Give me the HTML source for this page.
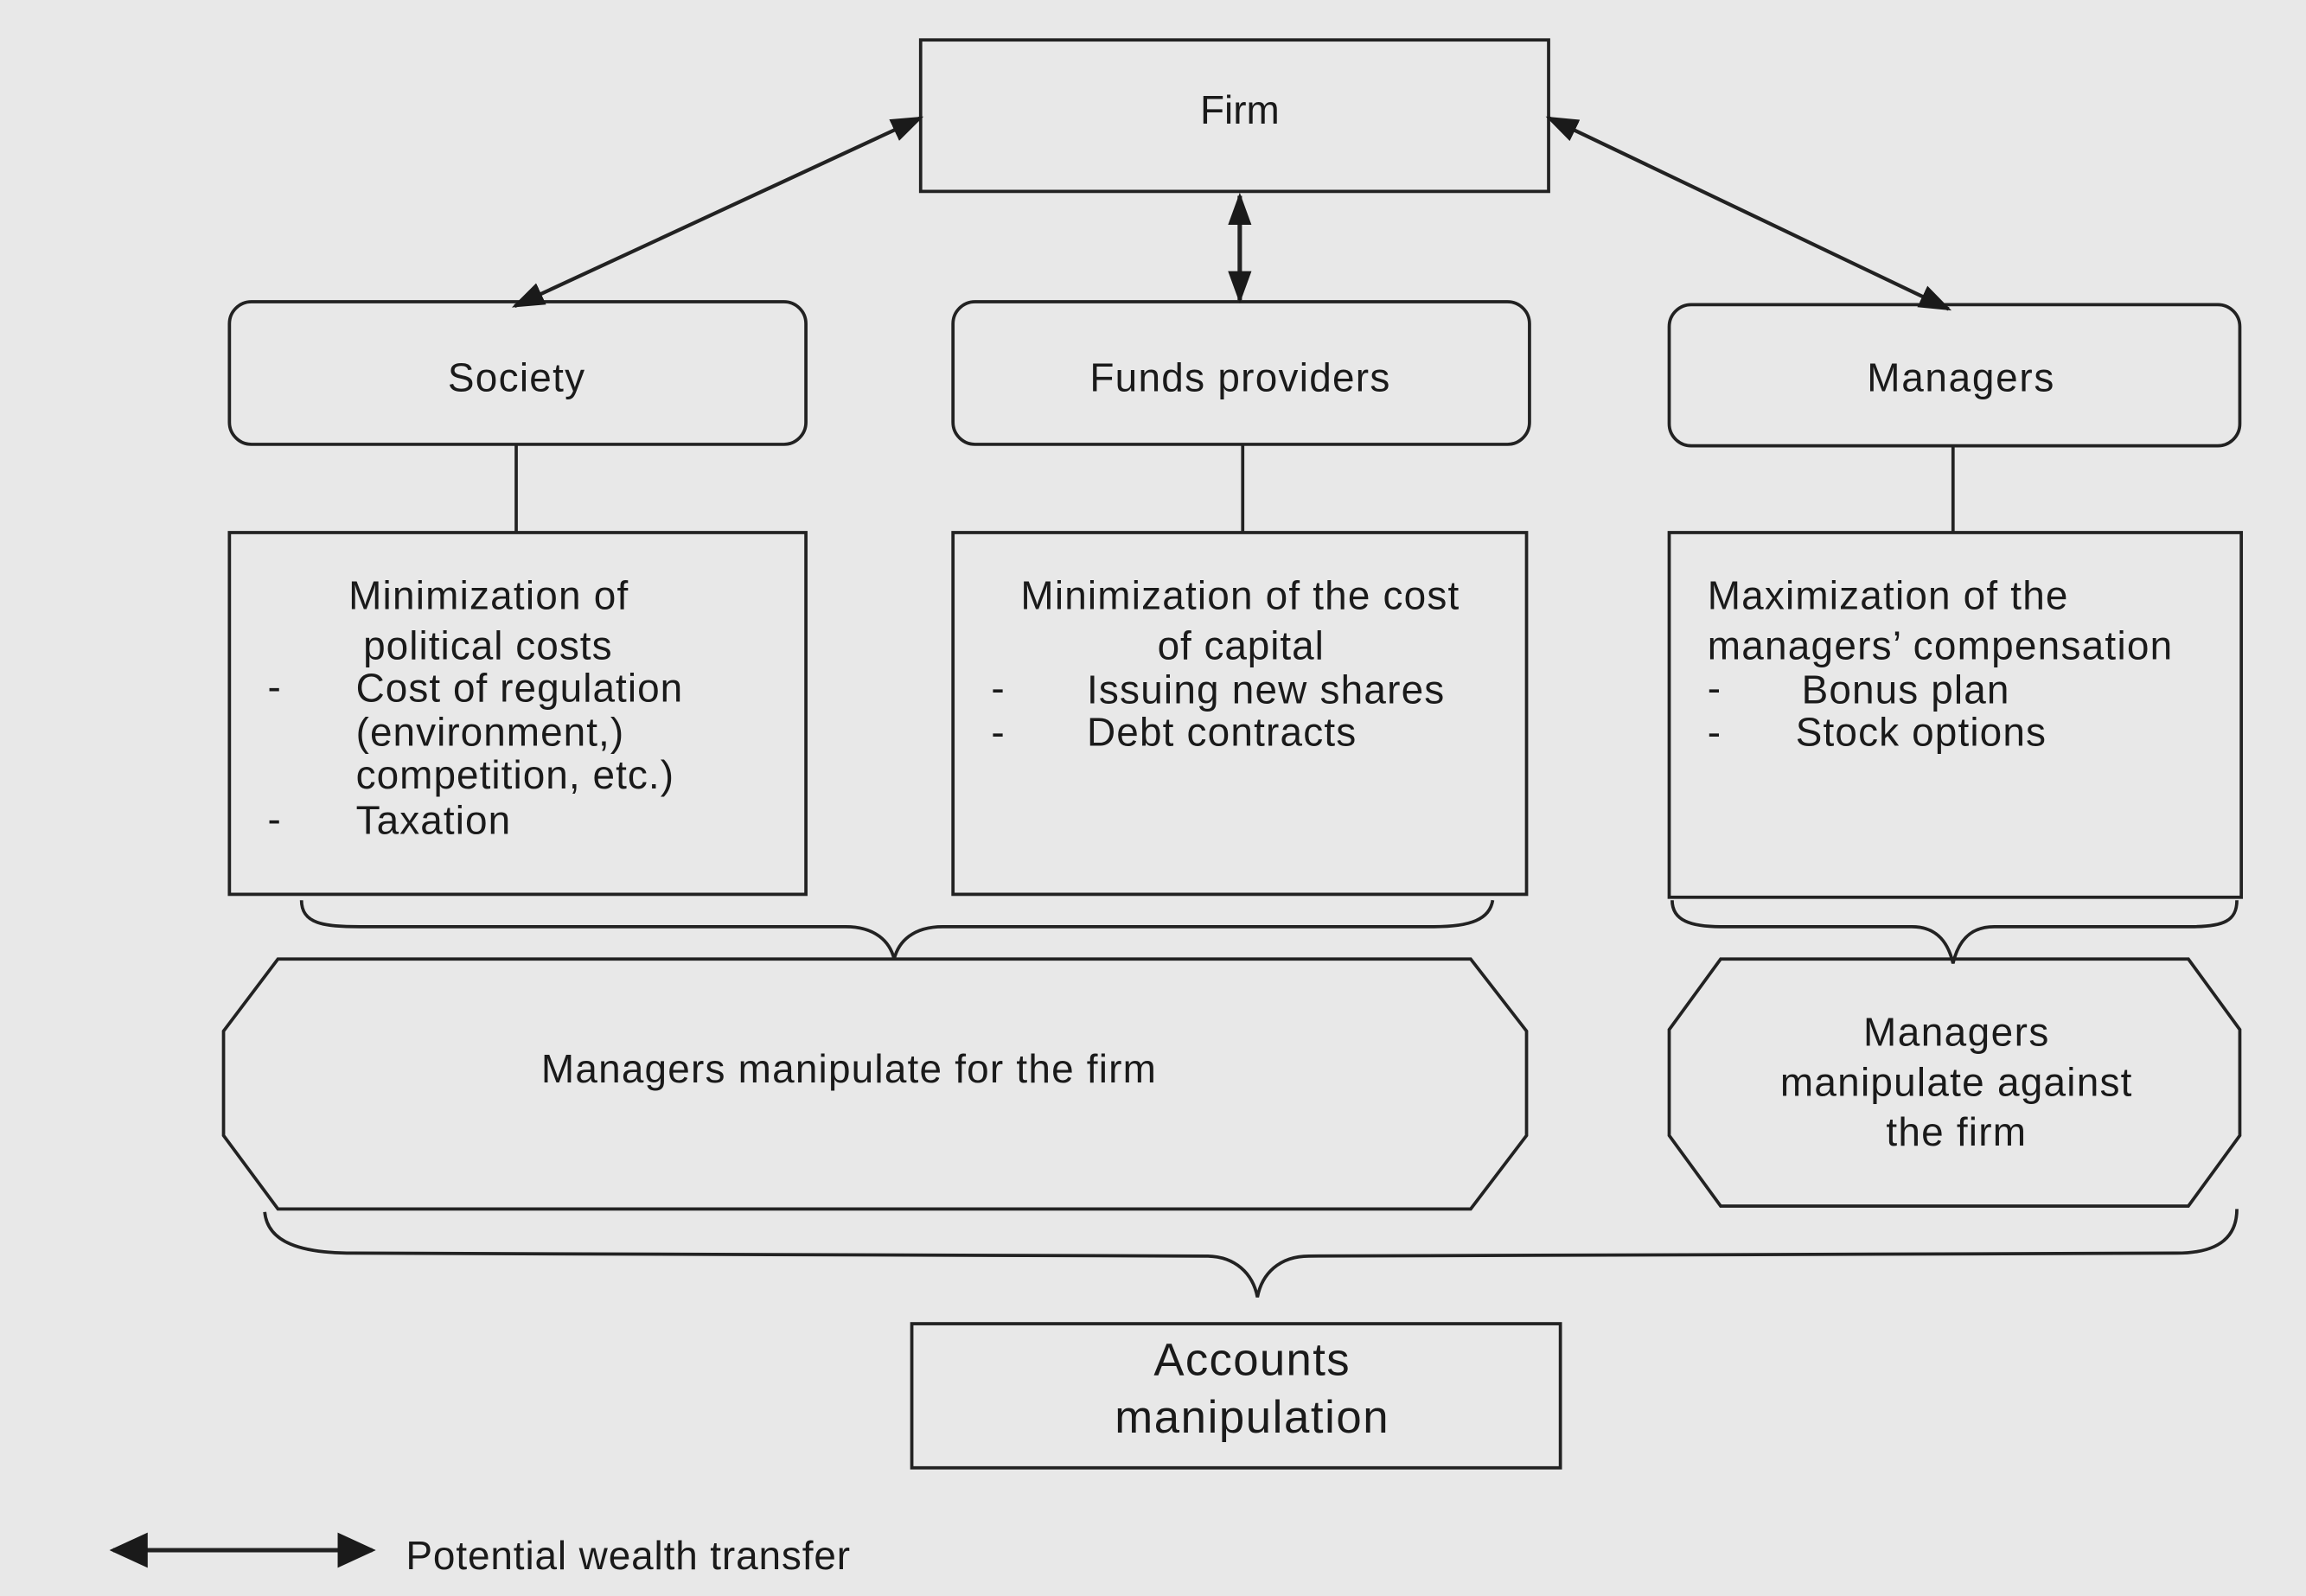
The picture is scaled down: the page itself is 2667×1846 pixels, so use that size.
<!DOCTYPE html>
<html><head><meta charset="utf-8"><style>
html,body{margin:0;padding:0;background:#e8e8e8;}
svg{display:block;}
text{font-family:"Liberation Sans",sans-serif;fill:#1a1a1a;font-size:27px;}
</style></head><body>
<svg width="2667" height="1846" viewBox="0 0 1568 1085" xmlns="http://www.w3.org/2000/svg">
<defs>
<marker id="ah" viewBox="0 0 10 10" refX="9" refY="5" markerWidth="22" markerHeight="16" markerUnits="userSpaceOnUse" orient="auto-start-reverse" preserveAspectRatio="none">
<path d="M0,0 L10,5 L0,10 z" fill="#1a1a1a"/></marker>
<marker id="ah2" viewBox="0 0 10 10" refX="9" refY="5" markerWidth="26" markerHeight="24" markerUnits="userSpaceOnUse" orient="auto-start-reverse" preserveAspectRatio="none">
<path d="M0,0 L10,5 L0,10 z" fill="#1a1a1a"/></marker>
</defs>
<rect width="1568" height="1085" fill="#e8e8e8"/>
<g stroke="#222" stroke-width="2.2" fill="none">
<rect x="626" y="27" width="427" height="103"/>
<rect x="156" y="205" width="392" height="97" rx="15"/>
<rect x="648" y="205" width="392" height="97" rx="15"/>
<rect x="1135" y="207" width="388" height="96" rx="15"/>
<line x1="351" y1="302" x2="351" y2="362"/>
<line x1="845" y1="302" x2="845" y2="362"/>
<line x1="1328" y1="303" x2="1328" y2="362"/>
<rect x="156" y="362" width="392" height="246"/>
<rect x="648" y="362" width="390" height="246"/>
<rect x="1135" y="362" width="389" height="248"/>
<path d="M205,612 C205,628 220,630 245,630 L575,630 C595,630 605,640 608,652 C611,640 621,630 641,630 L975,630 C1000,630 1013,625 1015,612"/>
<path d="M1137,612 C1137,626 1150,630 1170,630 L1300,630 C1318,630 1325,642 1328,655 C1331,642 1338,630 1356,630 L1490,630 C1512,630 1521,626 1521,612"/>
<polygon points="189,652 1000,652 1038,701 1038,772 1000,822 189,822 152,772 152,701"/>
<polygon points="1170,652 1488,652 1523,700 1523,772 1488,820 1170,820 1135,772 1135,700"/>
<path d="M180,824 C182,845 205,852 240,852 L820,854 C840,854 852,866 855,882 C858,866 870,854 890,854 L1480,852 C1510,852 1521,840 1521,822"/>
<rect x="620" y="900" width="441" height="98"/>
<line x1="626" y1="80" x2="350" y2="208" marker-start="url(#ah)" marker-end="url(#ah)" stroke-width="2.5"/>
<line x1="843" y1="133" x2="843" y2="204" marker-start="url(#ah)" marker-end="url(#ah)" stroke-width="3"/>
<line x1="1053" y1="80" x2="1325" y2="210" marker-start="url(#ah)" marker-end="url(#ah)" stroke-width="2.5"/>
<line x1="77" y1="1054" x2="253" y2="1054" marker-start="url(#ah2)" marker-end="url(#ah2)" stroke-width="3"/>
</g>
<text x="843" y="84" text-anchor="middle">Firm</text>
<text x="351" y="266" text-anchor="middle" textLength="93">Society</text>
<text x="843" y="266" text-anchor="middle" textLength="204">Funds providers</text>
<text x="1333" y="266" text-anchor="middle" textLength="127">Managers</text>

<text x="237" y="414" textLength="190">Minimization of</text>
<text x="247" y="448" textLength="169">political costs</text>
<text x="182" y="476">-</text>
<text x="242" y="477" textLength="222">Cost of regulation</text>
<text x="242" y="507" textLength="182">(environment,)</text>
<text x="242" y="536" textLength="216">competition, etc.)</text>
<text x="182" y="566">-</text>
<text x="242" y="567" textLength="105">Taxation</text>

<text x="694" y="414" textLength="298">Minimization of the cost</text>
<text x="787" y="448" textLength="113">of capital</text>
<text x="674" y="477">-</text>
<text x="739" y="478" textLength="243">Issuing new shares</text>
<text x="674" y="507">-</text>
<text x="739" y="507" textLength="183">Debt contracts</text>

<text x="1161" y="414" textLength="245">Maximization of the</text>
<text x="1161" y="448" textLength="316">managers’ compensation</text>
<text x="1161" y="477">-</text>
<text x="1225" y="478" textLength="141">Bonus plan</text>
<text x="1161" y="507">-</text>
<text x="1221" y="507" textLength="170">Stock options</text>

<text x="577" y="736" text-anchor="middle" textLength="418">Managers manipulate for the firm</text>
<text x="1330" y="711" text-anchor="middle" textLength="126">Managers</text>
<text x="1330" y="745" text-anchor="middle" textLength="239">manipulate against</text>
<text x="1330" y="779" text-anchor="middle" textLength="95">the firm</text>
<text x="851" y="935" text-anchor="middle" style="font-size:31px" textLength="133">Accounts</text>
<text x="851" y="974" text-anchor="middle" style="font-size:31px" textLength="186">manipulation</text>
<text x="276" y="1067" textLength="302">Potential wealth transfer</text>
</svg>
</body></html>
